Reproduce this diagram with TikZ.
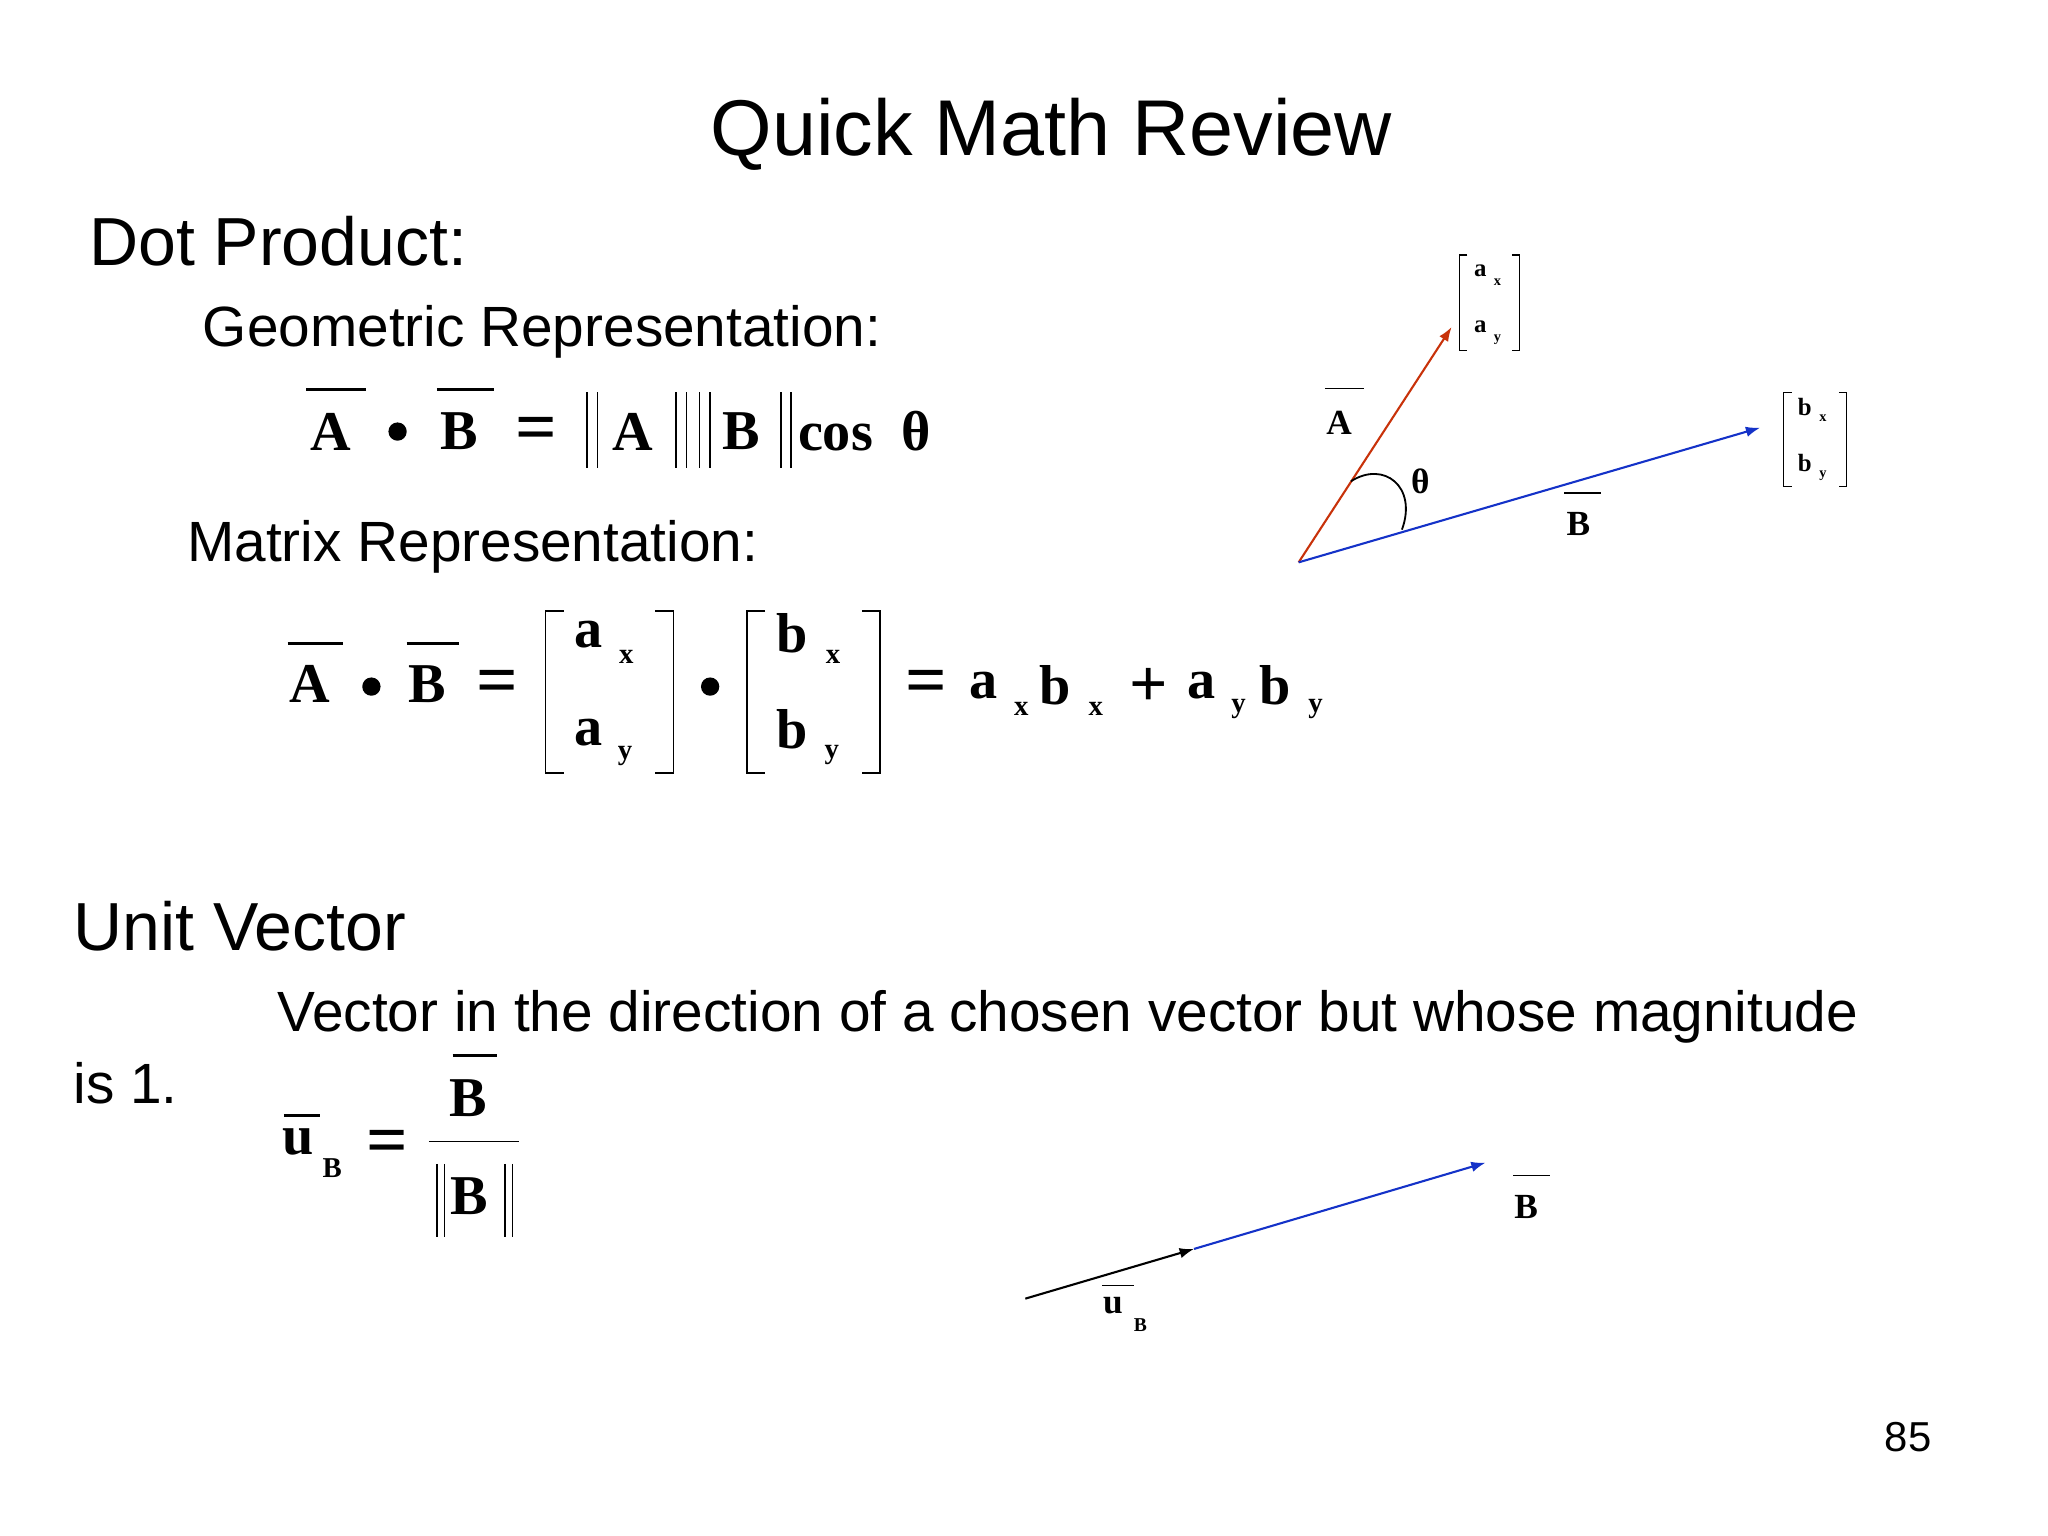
\documentclass[tikz,border=0pt]{standalone}
\usepackage{fontspec}
\setmainfont{Liberation Sans}
\newfontfamily\mser{Liberation Serif}
\usetikzlibrary{arrows.meta}
\tikzset{
  x=1pt,y=-1pt,
  hd/.style={font=\fontsize{#1}{#1}\selectfont,anchor=base west,inner sep=0},
  mb/.style={font=\mser\bfseries\fontsize{43}{43}\selectfont,inner sep=0},
  ms/.style={font=\mser\bfseries\fontsize{22}{22}\selectfont,inner sep=0},
  sb/.style={font=\mser\bfseries\fontsize{19}{19}\selectfont,inner sep=0},
  ss/.style={font=\mser\bfseries\fontsize{11}{11}\selectfont,inner sep=0},
  dotb/.style={circle,fill,inner sep=0,minimum size=14pt},
  ln/.style={line width=2pt},
  lt/.style={line width=1.2pt},
}
\begin{document}
\begin{tikzpicture}
\useasboundingbox (0,0) rectangle (1566,1174);
\node[hd=60.5,anchor=base] (title) at (804,119) {Quick Math Review};
\node[hd=52] (dp) at (68,203) {Dot Product:};
\node[hd=43.4] (geo) at (155,265) {Geometric Representation:};
\node[hd=43.4] (mat) at (143,429) {Matrix Representation:};
\node[hd=52] (uv) at (56,727) {Unit Vector};
\node[hd=43.4] (vec) at (212,789) {Vector in the direction of a chosen vector but whose magnitude};
\node[hd=43.4] (is1) at (56,844) {is 1.};
\node[hd=32] (pg) at (1441,1110) {85};
% equation 1
\node[mb] (e1a) at (253,330) {A};
\draw[ln] (234,298) -- (280,298);
\node[dotb] (e1d) at (304,330) {};
\node[mb] (e1b) at (351,330) {B};
\draw[ln] (334,298) -- (378,298);
\node[mb,scale=1.3] (e1e) at (410,332) {=};
\foreach \xx in {449,457,517,525,535,543,597,605} \draw[lt] (\xx,300) -- (\xx,358);
\node[mb] (e1na) at (484,330) {A};
\node[mb] (e1nb) at (567,330) {B};
\node[mb,anchor=west] (e1c) at (610,330) {cos\ \ θ};
% equation 2
\node[mb] (e2a) at (237,523) {A};
\draw[ln] (220,492) -- (262,492);
\node[dotb] (e2d) at (284,525) {};
\node[mb] (e2b) at (327,523) {B};
\draw[ln] (311,492) -- (351,492);
\node[mb,scale=1.3] (e2e) at (380,526) {=};
\draw[lt] (431,467) -- (417,467) -- (417,591) -- (431,591);
\draw[lt] (501,467) -- (515,467) -- (515,591) -- (501,591);
\node[mb] (m1a) at (450,485) {a}; \node[ms] (m1x) at (479,502) {x};
\node[mb] (m1b) at (450,560) {a}; \node[ms] (m1y) at (478,578) {y};
\node[dotb] (e2d2) at (543,525) {};
\draw[lt] (585,467) -- (571,467) -- (571,591) -- (585,591);
\draw[lt] (659,467) -- (673,467) -- (673,591) -- (659,591);
\node[mb] (m2a) at (606,484) {b}; \node[ms] (m2x) at (637,502) {x};
\node[mb] (m2b) at (606,558) {b}; \node[ms] (m2y) at (636,577) {y};
\node[mb,scale=1.3] (e2e2) at (708,526) {=};
\node[mb] (r1) at (752,524) {a}; \node[ms] (r1s) at (781,542) {x};
\node[mb] (r2) at (807,524) {b}; \node[ms] (r2s) at (838,542) {x};
\node[mb,scale=1.2] (rp) at (878,526) {+};
\node[mb] (r3) at (919,524) {a}; \node[ms] (r3s) at (947,542) {y};
\node[mb] (r4) at (975,524) {b}; \node[ms] (r4s) at (1006,542) {y};
% diagram
\coordinate (o) at (993,430);
\coordinate (ta) at (1110,250);
\coordinate (tb) at (1346,327);
\draw[line width=1.6pt,color={rgb,255:red,200;green,50;blue,10},-{Latex[length=11pt,width=8pt]}] (o) -- (ta);
\draw[line width=1.6pt,color={rgb,255:red,20;green,50;blue,200},-{Latex[length=11pt,width=8pt]}] (o) -- (tb);
\draw[line width=1.4pt] (1033,368) .. controls (1058,352) and (1084,372) .. (1072,405);
\node[sb,font=\mser\bfseries\fontsize{27}{27}\selectfont] (th) at (1086,368) {θ};
\node[sb,font=\mser\bfseries\fontsize{27}{27}\selectfont] (la) at (1024,323) {A};
\draw[lt] (1013,297) -- (1043,297);
\node[sb,font=\mser\bfseries\fontsize{27}{27}\selectfont] (lb) at (1207,401) {B};
\draw[lt] (1196,377) -- (1224,377);
\draw[line width=0.8pt] (1122,195) -- (1116,195) -- (1116,268) -- (1122,268);
\draw[line width=0.8pt] (1156,195) -- (1162,195) -- (1162,268) -- (1156,268);
\node[sb] (sa1) at (1132,207) {a}; \node[ss] (sa1s) at (1145,216) {x};
\node[sb] (sa2) at (1132,250) {a}; \node[ss] (sa2s) at (1145,260) {y};
\draw[line width=0.8pt] (1370,300) -- (1364,300) -- (1364,372) -- (1370,372);
\draw[line width=0.8pt] (1406,300) -- (1412,300) -- (1412,372) -- (1406,372);
\node[sb] (sb1) at (1380,311) {b}; \node[ss] (sb1s) at (1394,320) {x};
\node[sb] (sb2) at (1380,354) {b}; \node[ss] (sb2s) at (1394,364) {y};
% unit vector formula
\node[mb] (uu) at (228,873) {u}; \draw[ln] (217,853) -- (245,853);
\node[ms] (uus) at (254,893) {B};
\node[mb,scale=1.3] (ue) at (296,877) {=};
\node[mb] (fb) at (358,840) {B}; \draw[ln] (346,807) -- (380,807);
\draw[lt] (328,873) -- (397,873);
\foreach \xx in {334,340,386,392} \draw[lt] (\xx,890) -- (\xx,946);
\node[mb] (fd) at (359,915) {B};
% bottom vectors
\coordinate (p0) at (784,993);
\coordinate (p1) at (913,955);
\coordinate (p2) at (1136,889);
\draw[line width=1.6pt,color={rgb,255:red,20;green,50;blue,200},-{Latex[length=11pt,width=8pt]}] (p1) -- (p2);
\draw[line width=1.6pt,-{Latex[length=11pt,width=8pt]}] (p0) -- (p1);
\node[sb,font=\mser\bfseries\fontsize{27}{27}\selectfont] (bb) at (1167,923) {B};
\draw[lt] (1157,899) -- (1185,899);
\node[sb,font=\mser\bfseries\fontsize{27}{27}\selectfont] (bu) at (851,998) {u};
\draw[lt] (843,983) -- (867,983);
\node[ss,font=\mser\bfseries\fontsize{15}{15}\selectfont] (bus) at (872,1013) {B};
\end{tikzpicture}
\end{document}
